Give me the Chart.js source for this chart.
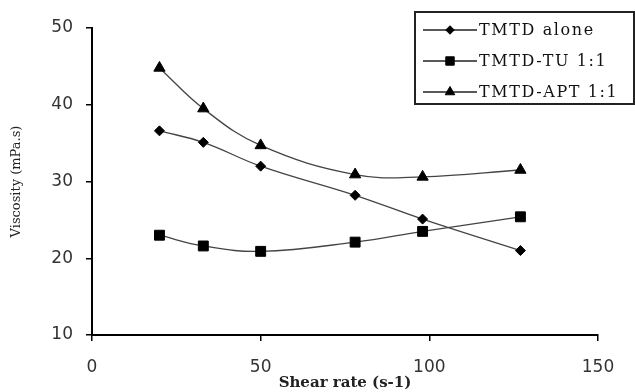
<!DOCTYPE html>
<html>
<head>
<meta charset="utf-8">
<script src="https://cdn.jsdelivr.net/npm/chart.js@4"></script>
<style>
  body { margin: 0; background: #fff; }
  #wrap { width: 635px; height: 392px; position: relative; }
</style>
</head>
<body>
<div id="wrap"><canvas id="viscosity-chart"></canvas></div>
<script>
// data
const shearRate = [20, 33, 50, 78, 98, 127];
const tmtdAlone = [36.6, 35.1, 32.0, 28.2, 25.1, 21.0];
const tmtdTU = [23.0, 21.6, 20.9, 22.1, 23.5, 25.4];
const tmtdAPT = [44.8, 39.5, 34.7, 30.9, 30.6, 31.5];
const seriesNames = ['TMTD alone', 'TMTD-TU 1:1', 'TMTD-APT 1:1'];
const xTicks = [0, 50, 100, 150];
const yTicks = [10, 20, 30, 40, 50];

const toPoints = vals => vals.map((v, i) => ({ x: shearRate[i], y: v }));

function makeSet(label, vals, style, radius) {
    return {
        label: label,
        data: toPoints(vals),
        borderColor: '#444',
        borderWidth: 1.3,
        backgroundColor: '#000',
        pointStyle: style,
        pointRadius: radius,
        pointBorderColor: '#000',
        pointBackgroundColor: '#000',
        pointBorderWidth: 1,
        tension: 0.4,
        fill: false
    };
}

// legend in a box at the top right, drawn over the plot
const boxLegend = {
    id: 'boxLegend',
    afterDraw(chart) {
        const ctx = chart.ctx;
        const left = 415, top = 12, right = 634, bottom = 104;
        ctx.save();
        ctx.strokeStyle = '#222';
        ctx.lineWidth = 2;
        ctx.fillStyle = '#fff';
        ctx.fillRect(left, top, right - left, bottom - top);
        ctx.strokeRect(left, top, right - left, bottom - top);
        chart.data.datasets.forEach((ds, i) => {
            const y = 30 + i * 31;
            ctx.strokeStyle = '#222';
            ctx.lineWidth = 1.5;
            ctx.beginPath();
            ctx.moveTo(423, y);
            ctx.lineTo(477, y);
            ctx.stroke();
            ctx.fillStyle = '#000';
            ctx.strokeStyle = '#000';
            ctx.lineWidth = 1;
            Chart.helpers.drawPoint(ctx, { pointStyle: ds.pointStyle, radius: ds.pointRadius * 0.85, borderWidth: 1 }, 450, y);
            ctx.fillStyle = '#111';
            ctx.font = '16px "DejaVu Serif"';
            if ('letterSpacing' in ctx) ctx.letterSpacing = '1.6px';
            ctx.textAlign = 'left';
            ctx.textBaseline = 'middle';
            ctx.fillText(ds.label, 479, y + 1);
            if ('letterSpacing' in ctx) ctx.letterSpacing = '0px';
        });
        ctx.restore();
    }
};

const ctx = document.getElementById('viscosity-chart').getContext('2d');
new Chart(ctx, {
    type: 'line',
    data: {
        datasets: [
            makeSet(seriesNames[0], tmtdAlone, 'rectRot', 5),
            makeSet(seriesNames[1], tmtdTU, 'rect', 7),
            makeSet(seriesNames[2], tmtdAPT, 'triangle', 6.5)
        ]
    },
    options: {
        responsive: true,
        maintainAspectRatio: false,
        animation: false,
        layout: { padding: { top: 28, right: 37, left: 0, bottom: 0 } },
        plugins: {
            legend: { display: false },
            tooltip: { enabled: false }
        },
        scales: {
            x: {
                type: 'linear',
                min: 0,
                max: 150,
                afterFit: s => { s.height = 57; },
                afterBuildTicks: s => { s.ticks = xTicks.map(v => ({ value: v })); },
                grid: { drawOnChartArea: false, tickLength: 6, color: '#000', lineWidth: 1.5 },
                border: { color: '#000', width: 2 },
                ticks: { color: '#333', font: { family: 'DejaVu Sans', size: 17 }, padding: 16, maxRotation: 0 },
                title: {
                    display: true,
                    text: 'Shear rate (s-1)',
                    color: '#222',
                    font: { family: 'DejaVu Serif', size: 15, weight: 'bold' },
                    padding: { top: 0, bottom: 0 }
                }
            },
            y: {
                min: 10,
                max: 50,
                afterFit: s => { s.width = 92; },
                afterBuildTicks: s => { s.ticks = yTicks.map(v => ({ value: v })); },
                grid: { drawOnChartArea: false, tickLength: 6, color: '#000', lineWidth: 1.5 },
                border: { color: '#000', width: 2 },
                ticks: { color: '#333', font: { family: 'DejaVu Sans', size: 17 }, padding: 13 },
                title: {
                    display: true,
                    text: 'Viscosity (mPa.s)',
                    color: '#222',
                    font: { family: 'DejaVu Serif', size: 13 },
                    padding: { top: 9, bottom: 0 }
                }
            }
        }
    },
    plugins: [boxLegend]
});
</script>
</body>
</html>
